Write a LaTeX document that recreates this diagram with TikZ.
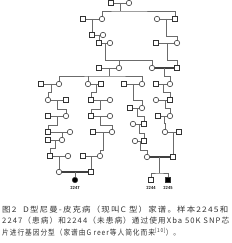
\documentclass[tikz,border=0pt]{standalone}
\usepackage{graphicx}
\usepackage{fontspec}
\newfontfamily\cjk[LetterSpace=14]{Noto Sans CJK SC}
\newcommand{\fitline}[2]{\resizebox{#1}{\height}{#2}}
\begin{document}
\begin{tikzpicture}[x=1pt,y=-1pt,
  lin/.style={draw=black!58,line width=0.6pt},
  sq/.style={rectangle,draw=black!80,fill=white,line width=0.6pt,minimum size=5pt,inner sep=0pt},
  ci/.style={circle,draw=black!80,fill=white,line width=0.6pt,minimum size=5.4pt,inner sep=0pt},
  fci/.style={ci,fill=black},
  fsq/.style={sq,fill=black},
  cons/.style={draw=black!75,double=black!75,double distance=0.5pt,line width=0.55pt},
  lab/.style={font=\sffamily\bfseries\fontsize{4.3}{4.3}\selectfont,inner sep=0pt},
  captxt/.style={font=\cjk\fontsize{7.6}{7.6}\selectfont,text=black!80,inner sep=0pt,anchor=west}]
\useasboundingbox (0,0) rectangle (232,243);
% nodes
\node[sq] (I1) at (111,3) {}; \node[ci] (I2) at (129,3) {};
\node[sq] (II1) at (83,19) {}; \node[ci] (II2) at (102,19) {};
\node[ci] (II3) at (157,19) {}; \node[sq] (II4) at (175,19) {};
\node[sq] (III1) at (92,35) {}; \node[ci] (III2) at (103,35) {};
\node[sq] (III3) at (156,43) {}; \node[ci] (III4) at (177,43) {};
\node[sq] (IV1) at (99,43) {}; \node[ci] (IV2) at (110,43) {};
\node[sq] (V0) at (99,68) {}; \node[ci] (V1) at (119,68) {};
\node[ci] (V2) at (152,68) {}; \node[sq] (V3) at (177,68) {};
\node[sq] (VIa) at (41,84) {}; \node[ci] (VIb) at (59,84) {};
\node[ci] (VIc) at (88,84) {}; \node[sq] (VId) at (101,84) {};
\node[sq] (VIe) at (124,84) {}; \node[ci] (VIf) at (142,84) {};
\node[sq] (VIg) at (156,84) {}; \node[ci] (VIh) at (170,84) {};
% chain A
\node[ci] (A1c) at (48,100) {}; \node[sq] (A1s) at (66,100) {};
\node[sq] (A2s) at (48,116) {}; \node[ci] (A2c) at (66,116) {};
\node[sq] (A3s) at (48,132) {}; \node[ci] (A3c) at (70,132) {};
\node[sq] (A4s) at (48,140) {}; \node[ci] (A4c) at (62,140) {};
\node[sq] (A5s) at (50,156) {}; \node[ci] (A5c) at (68,156) {};
\node[ci] (A6c) at (59,172) {};
% chain B
\node[sq] (B1s) at (91,100) {}; \node[ci] (B1c) at (110,100) {};
\node[sq] (B2s) at (91,116) {}; \node[ci] (B2c) at (110,116) {};
\node[sq] (B3s) at (93,132) {}; \node[ci] (B3c) at (112,132) {};
\node[sq] (B4s) at (83,156) {}; \node[ci] (B4c) at (100,156) {};
\node[sq] (B5s) at (91,172) {};
\node[fci] (P1) at (75,180) {};
\node[lab] (L1) at (75,188) {2247};
% chain C
\node[sq] (C1s) at (130,108) {}; \node[ci] (C1c) at (142,108) {};
\node[ci] (C2c) at (133,124) {}; \node[sq] (C2s) at (144,124) {};
\node[ci] (C3c) at (135,141) {}; \node[sq] (C3s) at (144,141) {};
\node[ci] (C4c) at (147,157) {};
% chain D
\node[ci] (D1c) at (156,100) {}; \node[sq] (D1s) at (170,100) {};
\node[sq] (D2s) at (158,116) {}; \node[ci] (D2c) at (170,116) {};
\node[ci] (D3c) at (165,132) {}; \node[sq] (D3s) at (179,132) {};
\node[sq] (D4s) at (173,157) {};
\node[sq] (K1) at (151,180) {}; \node[fsq] (K2) at (168,180) {};
\node[lab] (L2) at (151,188) {2244};
\node[lab] (L3) at (168,188) {2245};
% junction coordinates
\coordinate (mI) at (120,3); \coordinate (sI) at (120,11);
\coordinate (mII1) at (92,19); \coordinate (mII2) at (166,19);
\coordinate (mIII1) at (99,35); \coordinate (mIII2) at (167,43);
\coordinate (mIV) at (105,43); \coordinate (sIV) at (105,60);
\coordinate (mV1) at (109,68); \coordinate (sV) at (109,76);
\coordinate (mV2) at (164,68);
\coordinate (mVIa) at (51,84); \coordinate (mVIb) at (96,84);
\coordinate (mVIc) at (133,84); \coordinate (mVId) at (163,84);
\coordinate (mA1) at (57,100); \coordinate (mA2) at (57,116);
\coordinate (mA3) at (62,132); \coordinate (mA4) at (55,140);
\coordinate (mA5) at (59,156);
\coordinate (mB1) at (100,100); \coordinate (mB2) at (100,116);
\coordinate (mB3) at (103,132); \coordinate (mB4) at (91,156);
\coordinate (mP) at (75,172);
\coordinate (mC1) at (137,108); \coordinate (mC2) at (139,124);
\coordinate (mC3) at (140,141);
\coordinate (mD1) at (165,100); \coordinate (mD2) at (164,116);
\coordinate (mD3) at (173,132);
\coordinate (mK) at (159,157); \coordinate (sK) at (159,173);
% connectors
\draw[lin] (I1) -- (I2);
\draw[lin] (mI) -- (sI);
\draw[lin] (II2) |- (sI) -| (II4);
\draw[lin] (II1) -- (II2);
\draw[lin] (II3) -- (II4);
\draw[lin] (mII1) -- (III1);
\draw[lin] (mII2) -- ++(0,17) -| (III4);
\draw[lin] (III1) -- (III2);
\draw[lin] (III3) -- (III4);
\draw[lin] (mIII1) -- (IV1);
\draw[lin] (IV1) -- (IV2);
\draw[lin] (mIV) -- (sIV) -| (V2);
\draw[lin] (V1) -- (V1 |- sIV);
\draw[lin] (mIII2) -- ++(0,17) -| (V3);
\draw[lin] (V0) -- (V1);
\draw[cons] (V2) -- (V3);
\draw[lin] (mV1) -- (sV);
\draw[lin] (VIb) |- (sV) -| (VIf);
\draw[lin] (VIc) -- (VIc |- sV);
\draw[lin] (mV2) -- ++(0,8) -| (VIh);
\draw[lin] (VIa) -- (VIb);
\draw[lin] (VIc) -- (VId);
\draw[lin] (VIe) -- (VIf);
\draw[lin] (VIg) -- (VIh);
\draw[lin] (mVIa) -- ++(0,8) -| (A1c);
\draw[lin] (mVIb) -- ++(0,8) -| (B1s);
\draw[lin] (mVIc) -- ++(0,16) -| (C1c);
\draw[lin] (mVId) -- ++(0,8) -| (D1s);
\draw[lin] (A1c) -- (A1s);
\draw[lin] (mA1) -- ++(0,9) -| (A2c);
\draw[lin] (A2s) -- (A2c);
\draw[lin] (mA2) -- ++(0,9) -| (A3s);
\draw[lin] (A3s) -- (A3c);
\draw[lin] (mA3) -- (A4c);
\draw[lin] (A4s) -- (A4c);
\draw[lin] (mA4) -- ++(0,8) -| (A5s);
\draw[lin] (A5s) -- (A5c);
\draw[lin] (mA5) -- (A6c);
\draw[lin] (B1s) -- (B1c);
\draw[lin] (mB1) -- ++(0,9) -| (B2s);
\draw[lin] (B2s) -- (B2c);
\draw[lin] (mB2) -- ++(0,9) -| (B3c);
\draw[lin] (B3s) -- (B3c);
\draw[lin] (mB3) -- ++(0,18) -| (B4c);
\draw[lin] (B4s) -- (B4c);
\draw[lin] (mB4) -- (B5s);
\draw[cons] (A6c) -- (B5s);
\draw[lin] (mP) -- (P1);
\draw[lin] (C1s) -- (C1c);
\draw[lin] (mC1) -- ++(0,8) -| (C2s);
\draw[lin] (C2c) -- (C2s);
\draw[lin] (mC2) -- ++(0,9) -| (C3s);
\draw[lin] (C3c) -- (C3s);
\draw[lin] (mC3) -- ++(0,9) -| (C4c);
\draw[lin] (D1c) -- (D1s);
\draw[lin] (mD1) -- ++(0,8) -| (D2c);
\draw[lin] (D2s) -- (D2c);
\draw[lin] (mD2) -- ++(0,7) -| (D3c);
\draw[lin] (D3c) -- (D3s);
\draw[lin] (mD3) -- (D4s);
\draw[cons] (C4c) -- (D4s);
\draw[lin] (mK) -- (sK);
\draw[lin] (K1) |- (sK) -| (K2);
% caption
\node[captxt] (T1) at (2,209.5) {\fitline{226pt}{图2\hspace{6pt}D型尼曼-皮克病（现叫C 型）家谱。样本2245和}};
\node[captxt] (T2) at (2,221) {\fitline{227pt}{2247（患病）和2244（未患病）通过使用Xba 50K SNP芯}};
\node[captxt] (T3) at (2,232.5) {\fitline{178pt}{片进行基因分型（家谱由G reer等人简化而来\textsuperscript{[10]}）。}};
\end{tikzpicture}
\end{document}
